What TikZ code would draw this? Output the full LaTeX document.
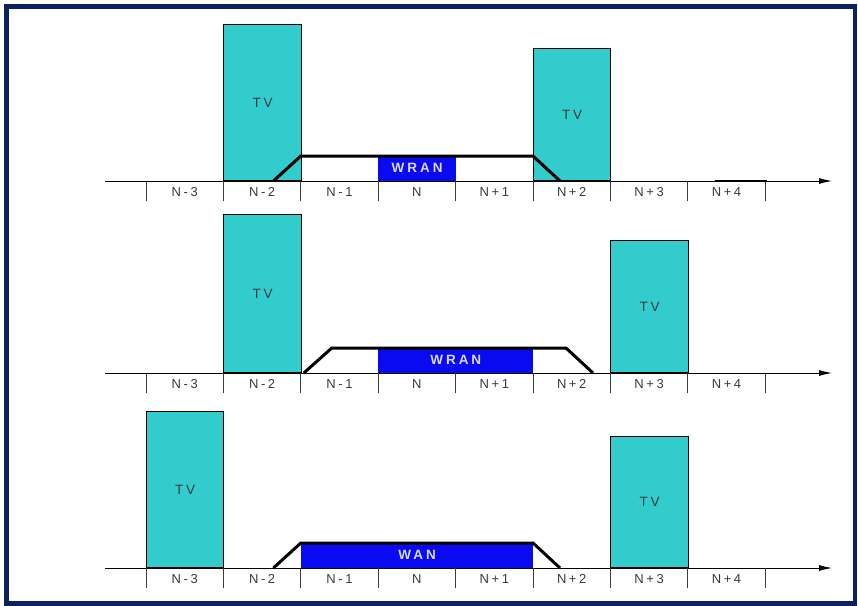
\documentclass[tikz,border=0pt]{standalone}
\usepackage{fontspec}
\setmainfont{Liberation Sans}
\newfontfamily\slotfont[LetterSpace=20]{Liberation Sans}
\newfontfamily\bandfont[LetterSpace=22]{Liberation Sans}
\usetikzlibrary{arrows.meta,positioning,calc}
\definecolor{navy}{HTML}{0B2262}
\definecolor{tvteal}{HTML}{33CCCC}
\definecolor{wranblue}{HTML}{0A0AF0}
\definecolor{ink}{HTML}{3A3A3A}

\begin{document}
\begin{tikzpicture}[x=1pt,y=-1pt,>={Latex[length=13pt,width=6pt]},
    tv/.style={draw=black,line width=0.9pt,fill=tvteal,anchor=south west,inner sep=0pt,
      minimum width=77.4pt,font=\slotfont\fontsize{13.5}{15}\selectfont,text=ink},
    band/.style={fill=wranblue,anchor=south west,inner sep=0pt,minimum height=25pt,
      text=white!85!blue,font=\bandfont\bfseries\fontsize{13.5}{15}\selectfont},
    slot/.style={font=\slotfont\fontsize{13}{15}\selectfont,text=ink,inner sep=0pt},
    ramp/.style={line width=3pt,line join=miter},
    tick/.style={line width=0.9pt,draw=ink}]
    \useasboundingbox (0,0) rectangle (858,605);
    \draw[navy,line width=4.5pt] (6.7,6.7) rectangle (855,603.5);
    % time axes with channel slots
    \foreach \ya/\p in {181/a,373/b,568/c} {
      \coordinate (\p-start) at (105,\ya);
      \coordinate (\p-end) at (832,\ya);
      \draw[->,line width=0.9pt] (\p-start) -- (\p-end);
      \foreach \k in {0,...,8} {
        \coordinate (\p-t\k) at (146+77.4*\k,\ya);
        \draw[tick] (\p-t\k) -- ++(0,20);
      }
      \foreach \lab [count=\i from 0] in {N-3,N-2,N-1,N,N+1,N+2,N+3,N+4}
        \node[slot] (\p-l\i) at ($(\p-t\i)+(38.7,11)$) {\lab};
    }
    % panel a
    \node[tv,minimum height=156pt] (a-tv1) at (a-t1) {TV};
    \node[tv,minimum height=132pt] (a-tv2) at (a-t5) {TV};
    \node[band,minimum width=77.4pt] (a-wran) at (a-t3) {WRAN};
    \draw[ramp] ($(a-t1)+(50,0)$) -- ($(a-t2)+(0,-25)$) -- ($(a-t5)+(0,-25)$) -- ($(a-t5)+(27,0)$);
    \draw[line width=2pt] ($(a-t7)+(27,0)$) -- ($(a-t8)+(2,0)$);
    % panel b
    \node[tv,minimum height=158pt] (b-tv1) at (b-t1) {TV};
    \node[tv,minimum height=132pt] (b-tv2) at (b-t6) {TV};
    \node[band,minimum width=154.8pt] (b-wran) at (b-t3) {WRAN};
    \draw[ramp] ($(b-t2)+(3,0)$) -- ($(b-t2)+(31,-25)$) -- ($(b-t5)+(33,-25)$) -- ($(b-t5)+(60,0)$);
    % panel c
    \node[tv,minimum height=156pt] (c-tv1) at (c-t0) {TV};
    \node[tv,minimum height=131pt] (c-tv2) at (c-t6) {TV};
    \node[band,minimum width=232.2pt] (c-wan) at (c-t2) {WAN};
    \draw[ramp] ($(c-t1)+(50,0)$) -- ($(c-t2)+(0,-25)$) -- ($(c-t5)+(0,-25)$) -- ($(c-t5)+(27,0)$);
  \end{tikzpicture}
\end{document}
